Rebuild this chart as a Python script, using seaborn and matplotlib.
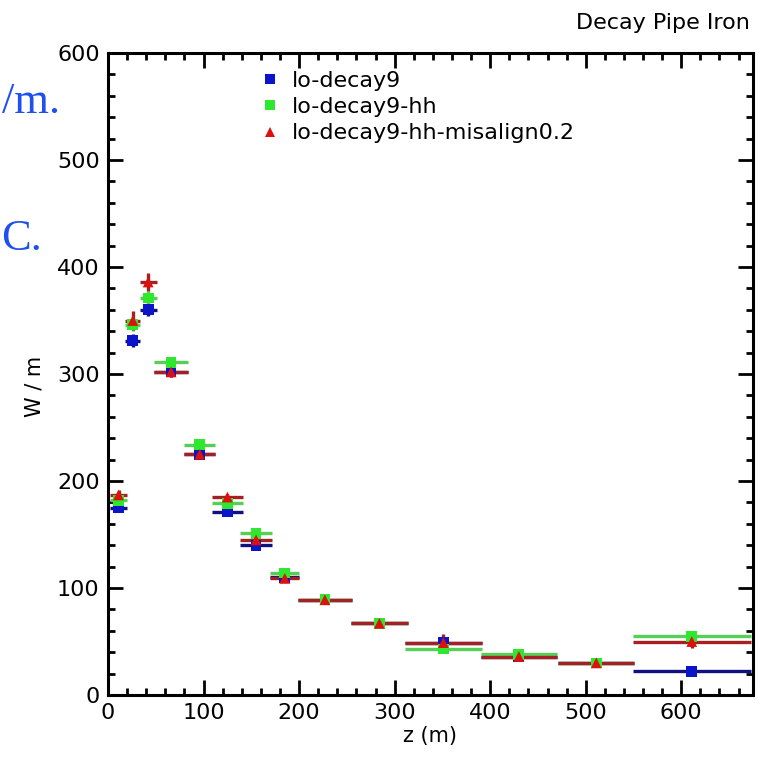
import numpy as np
import pandas as pd
import matplotlib
matplotlib.use("Agg")
import matplotlib.pyplot as plt
from matplotlib.ticker import MultipleLocator
import seaborn as sns

# ---- data ----
z_center = [11, 26, 42, 66, 96, 125, 155, 185, 227, 284, 351, 430, 511, 611]
z_halfwidth = [9, 8, 9, 18, 16, 16, 17, 15, 28, 30, 40, 40, 40, 62]

series_names = ["lo-decay9", "lo-decay9-hh", "lo-decay9-hh-misalign0.2"]
blue_vals = [175, 331, 360, 302, 225, 171, 140, 110, 89, 67, 49, 36, 30, 22]
green_vals = [182, 346, 371, 311, 234, 179, 151, 114, 89, 67, 43, 38, 30, 55]
red_vals = [187, 350, 386, 302, 225, 185, 145, 109, 89, 67, 49, 36, 30, 50]
blue_err = [4, 6, 6, 5, 4, 3, 3, 3, 2, 2, 3, 3, 2, 3]
green_err = [4, 6, 7, 5, 5, 4, 4, 3, 2, 2, 4, 4, 3, 5]
red_err = [5, 9, 8, 5, 4, 3, 3, 3, 2, 2, 8, 3, 3, 6]

x_ticks = [0, 100, 200, 300, 400, 500, 600]
y_ticks = [0, 100, 200, 300, 400, 500, 600]

colors = {"lo-decay9": "#0a14c8", "lo-decay9-hh": "#2ee82e", "lo-decay9-hh-misalign0.2": "#dd1010"}
err_colors = {"lo-decay9": "#101080", "lo-decay9-hh": "#55d055", "lo-decay9-hh-misalign0.2": "#a52020"}
markers = {"lo-decay9": "s", "lo-decay9-hh": "s", "lo-decay9-hh-misalign0.2": "^"}

vals = {series_names[0]: blue_vals, series_names[1]: green_vals, series_names[2]: red_vals}
errs = {series_names[0]: blue_err, series_names[1]: green_err, series_names[2]: red_err}

rows = []
for name in series_names:
    for zc, zw, v, e in zip(z_center, z_halfwidth, vals[name], errs[name]):
        rows.append({"z": zc, "dz": zw, "W": v, "dW": e, "series": name})
df = pd.DataFrame(rows)

sns.set_theme(style="white")
plt.rcParams["font.family"] = ["DejaVu Sans"]
plt.rcParams["text.color"] = "black"
plt.rcParams["axes.labelcolor"] = "black"
plt.rcParams["xtick.color"] = "black"
plt.rcParams["ytick.color"] = "black"

fig = plt.figure(figsize=(7.59, 7.61), dpi=100)
ax = fig.add_axes([0.1423, 0.0867, 0.8497, 0.8436])

for name in series_names:
    sub = df[df["series"] == name]
    ax.errorbar(sub["z"], sub["W"], xerr=sub["dz"], yerr=sub["dW"], fmt="none",
                ecolor=err_colors[name], elinewidth=2.4, capsize=0, zorder=2)

sns.scatterplot(data=df, x="z", y="W", hue="series", style="series",
                palette=colors, markers=markers, hue_order=series_names,
                style_order=series_names, s=60, edgecolor="none", linewidth=0,
                ax=ax, zorder=3, legend=True)

handles, labels = ax.get_legend_handles_labels()
ax.legend(handles, labels, loc="upper left", bbox_to_anchor=(0.234, 0.972),
          frameon=False, fontsize=16, borderpad=0, borderaxespad=0,
          handlelength=1.0, handletextpad=0.5, labelspacing=0.28, markerscale=1.0,
          labelcolor="black")

ax.set_xlim(0, 675)
ax.set_ylim(0, 600)
ax.set_xticks(x_ticks)
ax.set_yticks(y_ticks)
ax.xaxis.set_minor_locator(MultipleLocator(20))
ax.yaxis.set_minor_locator(MultipleLocator(20))
ax.tick_params(which="major", direction="in", length=11, width=2, top=True, right=True,
               labelsize=16, colors="black", pad=6)
ax.tick_params(which="minor", direction="in", length=5, width=2, top=True, right=True)
ax.tick_params(axis="x", which="both", bottom=True)
ax.tick_params(axis="y", which="both", left=True)
for sp in ax.spines.values():
    sp.set_linewidth(2.2)
    sp.set_color("black")

ax.set_xlabel("z (m)", fontsize=15, labelpad=2, color="black")
ax.set_ylabel("W / m", fontsize=15, color="black")
ax.yaxis.set_label_coords(-0.098, 0.48)

fig.text(0.988, 0.962, "Decay Pipe Iron", ha="right", va="baseline", fontsize=16,
         color="black")

fig.text(0.002, 0.851, "/m.", ha="left", va="baseline", fontsize=32,
         family=["Liberation Serif"], color="#1f4ff0")
fig.text(0.002, 0.672, "C.", ha="left", va="baseline", fontsize=32,
         family=["Liberation Serif"], color="#1f4ff0")

fig.savefig("out.png", dpi=100, facecolor="white")
